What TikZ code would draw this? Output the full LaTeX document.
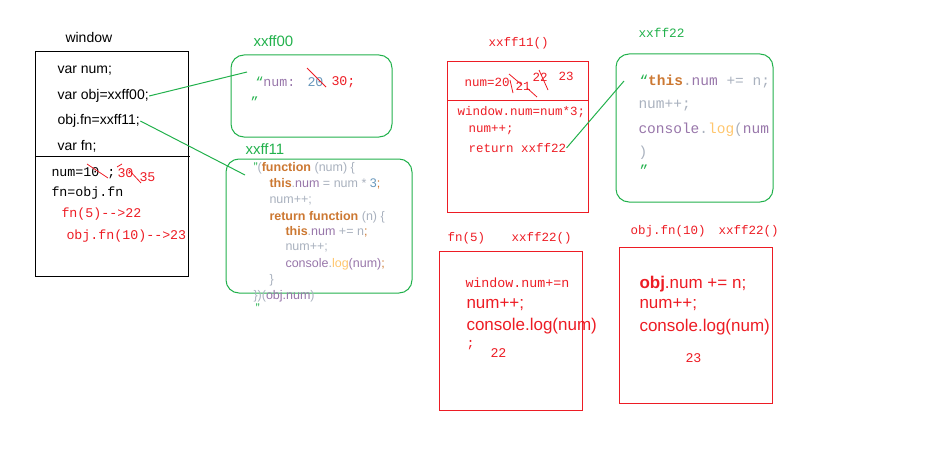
\documentclass[tikz,border=0pt]{standalone}
\usepackage{fontspec}
\setmainfont{Liberation Sans}
\newfontfamily\simfont{Liberation Mono}
\usepackage{xcolor}
\definecolor{pgreen}{RGB}{34,177,76}
\definecolor{pred}{RGB}{237,28,36}
\definecolor{jskey}{RGB}{204,120,50}
\definecolor{jsprop}{RGB}{152,118,170}
\definecolor{jsgray}{RGB}{169,177,190}
\definecolor{jsnum}{RGB}{104,151,187}
\definecolor{jslog}{RGB}{255,198,109}
\newcommand{\jskw}[1]{\textcolor{jskey}{\textbf{#1}}}
\newcommand{\jsp}[1]{\textcolor{jsprop}{#1}}
\newcommand{\jsg}[1]{\textcolor{jsgray}{#1}}
\newcommand{\jsn}[1]{\textcolor{jsnum}{#1}}
\newcommand{\jsl}[1]{\textcolor{jslog}{#1}}
\newcommand{\jsq}[1]{\textcolor{pgreen}{#1}}
\tikzstyle{green box}=[
    draw = pgreen,
    line width = 1,
    rounded corners = 13,
    inner sep = 0
]
\tikzstyle{red box}=[
    draw = pred,
    line width = 1,
    inner sep = 0
]

\begin{document}
\begin{tikzpicture}[x=1pt, y=-1pt, line width=1,
    txt/.style = {inner sep=0, anchor=west, font=\fontsize{14}{16}\selectfont},
    mono/.style = {inner sep=0, anchor=west, font=\simfont\fontsize{13.3}{15}\selectfont},
    label/.style = {inner sep=0, anchor=west, font=\simfont\fontsize{12.5}{14}\selectfont},
    code/.style = {inner sep=0, anchor=west, font=\fontsize{12.5}{14}\selectfont},
    big/.style = {inner sep=0, anchor=west, text=pred, font=\fontsize{17}{19}\selectfont},
    link/.style = {draw=pgreen},
    strike/.style = {draw=pred, line width=0.8}]
        \useasboundingbox (0,0) rectangle (951,460);

        % window
        \node[txt] (winlab) at (65,37) {window};
        \node[draw, inner sep=0, minimum width=153, minimum height=224] (win) at (111.5,164) {};
        \draw (35,156) -- (190,156);
        \node[txt] (numvar) at (57,71) {var num;};
        \node[txt] (objvar) at (57,96) {var obj=xxff00;};
        \node[txt] (fnvar) at (57,121) {obj.fn=xxff11;};
        \node[txt] (fnvar2) at (57,146) {var fn;};
        \node[mono] (num10) at (51,173) {num=10 ;};
        \node[mono, text=pred] (num30) at (117,173) {30};
        \node[mono, text=pred] (num35) at (139,177) {35};
        \draw[strike] (87,164) -- (108,178);
        \draw[strike] (117,167) -- (122,164);
        \draw[strike] (129,170) -- (141,183);
        \node[mono] (fnset) at (51,193) {fn=obj.fn};
        \node[mono, text=pred] (call5) at (61,214) {fn(5)-->22};
        \node[mono, text=pred] (call10) at (66,236) {obj.fn(10)-->23};

        % xxff00
        \node[txt, text=pgreen, font=\fontsize{15}{17}\selectfont] (ff00lab) at (253,41) {xxff00};
        \node[green box, minimum width=161, minimum height=82] (ff00) at (311.5,96) {};
        \node[mono] (ff00txt) at (255,82) {\jsq{“}\jsp{num:}};
        \node[mono, text=jsnum] (old20) at (307,82) {20};
        \node[mono, text=pred] (new30) at (331,82) {30;};
        \draw[strike] (307,68) -- (326,87);
        \node[mono] (ff00end) at (250,102) {\jsq{”}};
        \coordinate (ff00in) at (247,72);
        \draw[link] (objvar.east) -- (ff00in);

        % xxff11
        \node[txt, text=pgreen, font=\fontsize{15}{17}\selectfont] (ff11lab) at (245,149) {xxff11};
        \node[green box, minimum width=186, minimum height=134] (ff11) at (319,226) {};
        \node[code] (c1) at (253,168) {\jsq{”}\jsg{(}\jskw{function} \jsg{(num) \{}};
        \node[code] (c2) at (269,184) {\jskw{this}\jsg{.}\jsp{num} \jsg{= num *} \jsn{3}\textcolor{jskey}{;}};
        \node[code] (c3) at (269,201) {\jsg{num++;}};
        \node[code] (c4) at (269,217) {\jskw{return function} \jsg{(n) \{}};
        \node[code] (c5) at (285,232) {\jskw{this}\jsg{.}\jsp{num} \jsg{+= n}\textcolor{jskey}{;}};
        \node[code] (c6) at (285,248) {\jsg{num++;}};
        \node[code] (c7) at (285,264) {\jsp{console}\jsg{.}\jsl{log}\jsp{(num)}\textcolor{jskey}{;}};
        \node[code] (c8) at (269,280) {\jsg{\}}};
        \node[code] (c9) at (253,296) {\jsg{\})(}\jsp{obj.num}\jsg{)}};
        \node[code] (c10) at (255,308) {\jsq{”}};
        \coordinate (ff11in) at (245,175);
        \draw[link] (fnvar.east) -- (ff11in);

        % xxff11()
        \node[label, text=pred] (f11lab) at (488,43) {xxff11()};
        \node[red box, minimum width=141, minimum height=150] (f11call) at (517.5,137) {};
        \draw[pred] (447,101) -- (588,101);
        \node[label, text=pred] (num20) at (464,82) {num=20};
        \node[label, text=pred] (num21) at (515,86) {21};
        \node[label, text=pred] (num22) at (532,77) {22};
        \node[label, text=pred] (num23) at (558,76) {23};
        \draw[strike] (509,74) -- (522,85);
        \draw[strike] (510,80) -- (513,93);
        \draw[strike] (527,88) -- (537,97);
        \draw[strike] (539,70) -- (548,90);
        \node[label, text=pred] (w1) at (457,112) {window.num=num*3;};
        \node[label, text=pred] (w2) at (468,130) {num++;};
        \node[label, text=pred] (ret22) at (468,148) {return xxff22};
        \coordinate (ff22in) at (624,81);
        \draw[link] (ret22.east) -- (ff22in);

        % xxff22
        \node[label, text=pgreen, font=\simfont\fontsize{12.8}{14}\selectfont] (ff22lab) at (638,33) {xxff22};
        \node[green box, minimum width=157, minimum height=148] (ff22) at (694.5,128) {};
        \begin{scope}[mono/.append style={font=\simfont\fontsize{14.5}{16}\selectfont}]
            \clip (616,54) rectangle (773,202);
            \node[mono] (t1) at (639,82) {\jsq{“}\jskw{this}\jsg{.}\jsp{num} \jsg{+= n;}};
            \node[mono] (t2) at (638,106) {\jsg{num++;}};
            \node[mono] (t3) at (638,130) {\jsp{console}\jsg{.}\jsl{log}\jsg{(}\jsp{num}};
            \node[mono] (t4) at (638,153) {\jsg{)}};
            \node[mono] (t5) at (639,170) {\jsq{”}};
        \end{scope}

        % fn(5)
        \node[label, text=pred] (fn5lab) at (447,238) {fn(5)};
        \node[label, text=pred] (fn5ref) at (511,238) {xxff22()};
        \node[red box, minimum width=143, minimum height=159] (fn5) at (510.5,330.5) {};
        \node[mono, text=pred] (a1) at (465,283) {window.num+=n};
        \node[big] (a2) at (466,305) {num++;};
        \node[big] (a3) at (466,326) {console.log(num)};
        \node[mono, text=pred] (a4) at (466,345) {;};
        \node[mono, text=pred] (a5) at (490,353) {22};

        % obj.fn(10)
        \node[label, text=pred] (fn10lab) at (630,231) {obj.fn(10)};
        \node[label, text=pred] (fn10ref) at (718,231) {xxff22()};
        \node[red box, minimum width=153, minimum height=156] (fn10) at (695.5,325) {};
        \node[big] (b1) at (639,284) {\textbf{obj}.num += n;};
        \node[big] (b2) at (639,305) {num++;};
        \node[big] (b3) at (639,327) {console.log(num)};
        \node[mono, text=pred] (b4) at (685,358) {23};

\end{tikzpicture}
\end{document}
